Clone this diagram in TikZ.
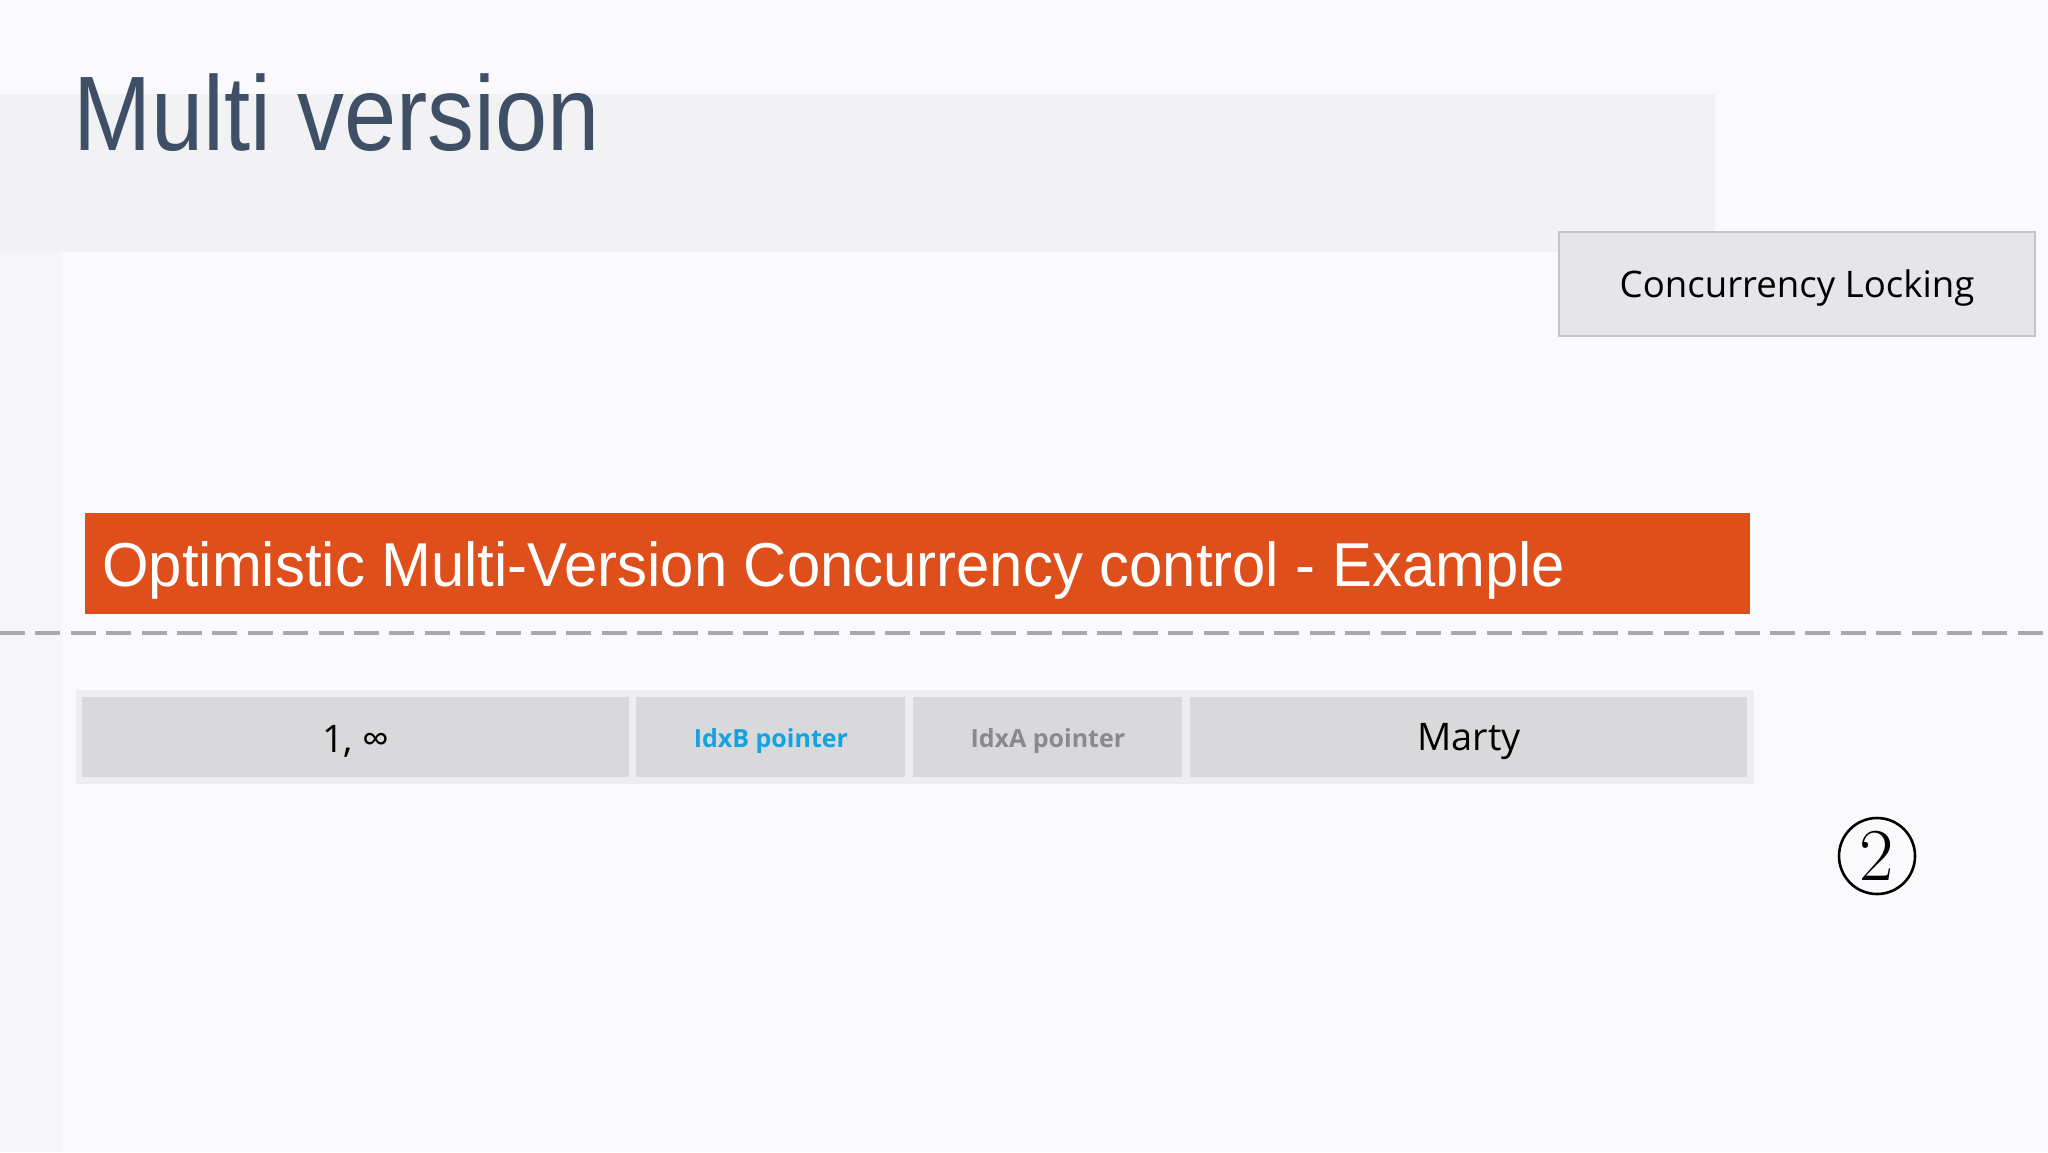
\documentclass[tikz,border=0pt]{standalone}
\usepackage{fontspec}
\setmainfont{Liberation Sans}
\newfontfamily\segoe{Open Sans}
\definecolor{bgc}{HTML}{FAFAFC}
\definecolor{bandc}{HTML}{F2F2F4}
\definecolor{stripc}{HTML}{F6F6F8}
\definecolor{titlec}{HTML}{3F4F66}
\definecolor{boxfill}{HTML}{E6E5E9}
\definecolor{boxline}{HTML}{C4C4C6}
\definecolor{orangec}{HTML}{DF4F1B}
\definecolor{dashc}{HTML}{A9A9AB}
\definecolor{framec}{HTML}{EEEEF0}
\definecolor{cellc}{HTML}{D9D9DB}
\definecolor{bluec}{HTML}{14A3E0}
\definecolor{greyc}{HTML}{8A8A8C}
\tikzset{
  cellbox/.style={fill=cellc, inner sep=0pt, minimum height=40pt, anchor=west},
  bigtxt/.style={font=\segoe\fontsize{19}{22}\selectfont, text=black},
  smalltxt/.style={font=\segoe\bfseries\fontsize{12.5}{15}\selectfont}
}
\begin{document}
\begin{tikzpicture}[x=0.5pt,y=-0.5pt]
\useasboundingbox (0,0) rectangle (2048,1152);
\fill[bgc] (0,0) rectangle (2048,1152);
\fill[stripc] (0,252) rectangle (62,1152);
\fill[bandc] (0,94) rectangle (1715,252);
\node[anchor=base west, inner sep=0pt, text=titlec, font=\fontsize{53}{60}\selectfont] (title) at (73,150) {\scalebox{0.885}[1]{Multi version}};
\node[draw=boxline, line width=0.7pt, fill=boxfill, minimum width=238pt, minimum height=52pt, inner sep=0pt] (lock) at (1797,284) {};
\node[inner sep=0pt, font=\segoe\fontsize{18.3}{22}\selectfont] (locktext) at (1797,288) {Concurrency Locking};
\node[fill=orangec, minimum width=832.5pt, minimum height=50.5pt, inner sep=0pt] (bar) at (917.5,563.5) {};
\node[anchor=base west, inner sep=0pt, text=white, font=\fontsize{31}{34}\selectfont] (bartext) at (102,586) {\scalebox{0.965}[1]{Optimistic Multi-Version Concurrency control - Example}};
\coordinate (dl) at (0,633);
\coordinate (dr) at (2048,633);
\draw[dashc, line width=2pt, dash pattern=on 12.5pt off 5.2pt] (dl) -- (dr);
\node[fill=framec, minimum width=839pt, minimum height=47pt, inner sep=0pt] (frame) at (915,737) {};
\node[cellbox, minimum width=273.5pt] (c1) at (82,737) {};
\node[cellbox, minimum width=134.5pt] (c2) at (636,737) {};
\node[cellbox, minimum width=134.5pt] (c3) at (913,737) {};
\node[cellbox, minimum width=278.5pt] (c4) at (1190,737) {};
\node[bigtxt] at ([yshift=-2pt]c1.center) {1, ∞};
\node[smalltxt, text=bluec] at ([yshift=-2pt]c2.center) {IdxB pointer};
\node[smalltxt, text=greyc] at ([yshift=-2pt]c3.center) {IdxA pointer};
\node[bigtxt] at ([yshift=-2pt]c4.center) {Marty};
\node[draw=black, line width=1.3pt, circle, minimum size=38pt, inner sep=0pt] (two) at (1877,856) {};
\node[inner sep=0pt] (twotext) at (two.center) {\scalebox{1.5}{\Huge$2$}};
\end{tikzpicture}
\end{document}
